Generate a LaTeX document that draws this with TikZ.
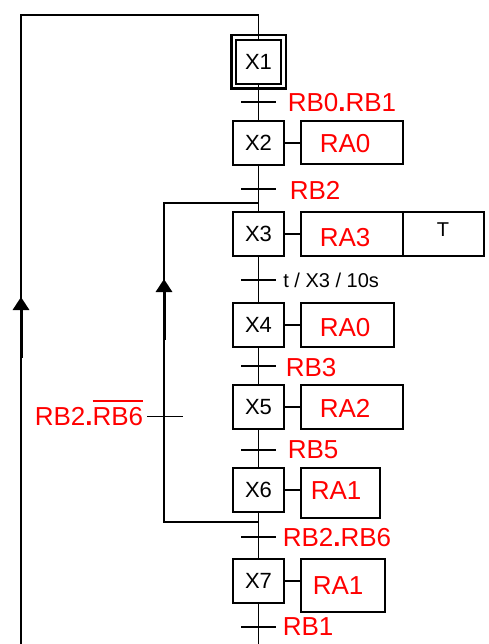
\documentclass[tikz,border=0pt]{standalone}
\usepackage{fontspec}
\setmainfont{Liberation Sans}
\usetikzlibrary{arrows.meta}
\newcommand\myoverbar[1]{\leavevmode\vbox{\hrule height 1.5pt\kern 5pt\hbox{#1}}}
\begin{document}
\begin{tikzpicture}[x=1pt,y=-1pt,
  line width=1.6pt,
  stepbox/.style={draw, minimum width=51pt, minimum height=44pt, inner sep=0pt, font=\fontsize{22}{26}\selectfont},
  actbox/.style={draw, minimum height=44pt, inner sep=0pt},
  rtxt/.style={text=red, inner sep=0pt, anchor=base west, font=\fontsize{26}{30}\selectfont},
  btxt/.style={inner sep=0pt, font=\fontsize{20}{24}\selectfont},
  upar/.style={line width=3pt, -{Triangle[width=16pt,length=13pt]}},
]
\useasboundingbox (0,0) rectangle (489,644);

% steps
\node[stepbox, minimum width=45pt] (X1) at (258.5,62) {X1};
\draw[line width=2.6pt] ([shift={(-4,-4)}]X1.north west) rectangle ([shift={(4,4)}]X1.south east);
\node[stepbox] (X2) at (258.5,143) {X2};
\node[stepbox] (X3) at (258.5,234) {X3};
\node[stepbox] (X4) at (258.5,325) {X4};
\node[stepbox] (X5) at (258.5,407) {X5};
\node[stepbox] (X6) at (258.5,490) {X6};
\node[stepbox] (X7) at (258.5,581) {X7};

% actions
\node[actbox, minimum width=102pt, minimum height=43pt] (A2) at (352,142.5) {};
\node[rtxt] (A2t) at (319,152.7) {RA0};
\node[actbox, minimum width=102pt] (A3) at (352,234) {};
\node[rtxt] (A3t) at (319,246) {RA3};
\node[actbox, minimum width=81pt] (T3) at (443.5,234) {};
\node[btxt, anchor=base] (T3t) at (443,236.5) {T};
\node[actbox, minimum width=93pt] (A4) at (347.5,325) {};
\node[rtxt] (A4t) at (319,336.7) {RA0};
\node[actbox, minimum width=102pt] (A5) at (352,407) {};
\node[rtxt] (A5t) at (319,417) {RA2};
\node[actbox, minimum width=79pt, minimum height=50pt] (A6) at (340.5,493) {};
\node[rtxt] (A6t) at (310,499.3) {RA1};
\node[actbox, minimum width=84pt, minimum height=53pt] (A7) at (343,585.5) {};
\node[rtxt] (A7t) at (312,594) {RA1};

\draw (X2.east) -- (X2.east -| A2.west);
\draw (X3.east) -- (X3.east -| A3.west);
\draw (X4.east) -- (X4.east -| A4.west);
\draw (X5.east) -- (X5.east -| A5.west);
\draw (X6.east) -- (X6.east -| A6.west);
\draw (X7.east) -- (X7.east -| A7.west);

% main chain
\coordinate (top) at (258.5,15);
\coordinate (leftbot) at (21,644);
\coordinate (mainbot) at (258.5,644);
\draw (X1.north) -- (top) -| (leftbot);
\draw (X1.south) -- (X2.north);
\draw (X2.south) -- (X3.north);
\draw (X3.south) -- (X4.north);
\draw (X4.south) -- (X5.north);
\draw (X5.south) -- (X6.north);
\draw (X6.south) -- (X7.north);
\draw (X7.south) -- (mainbot);

% transitions
\coordinate (t12) at (258.5,102);
\coordinate (t23) at (258.5,189);
\coordinate (t34) at (258.5,280);
\coordinate (t45) at (258.5,366);
\coordinate (t56) at (258.5,450);
\coordinate (t67) at (258.5,537);
\coordinate (t71) at (258.5,627);
\foreach \t in {t12,t23,t34,t45,t56,t67,t71}
  \draw ([xshift=-17.5]\t) -- ([xshift=17.5]\t);

\node[rtxt] (L12) at (287,111.7) {RB0{\bfseries .}RB1};
\node[rtxt] (L23) at (289,200) {RB2};
\node[btxt, anchor=base west] (L34) at (282.5,287.3) {t / X3 / 10s};
\node[rtxt] (L45) at (285,376) {RB3};
\node[rtxt] (L56) at (287,458.3) {RB5};
\node[rtxt] (L67) at (282,546.7) {RB2{\bfseries .}RB6};
\node[rtxt] (L71) at (282,635) {RB1};

% loop back branch
\coordinate (j1) at (258.5,203);
\coordinate (j2) at (258.5,522);
\coordinate (jl1) at (164,203);
\coordinate (jl2) at (164,522);
\draw (j2) -- (jl2) -- (jl1) -- (j1);
\coordinate (tl) at (164,416.5);
\draw ([xshift=-17]tl) -- ([xshift=19]tl);
\node[rtxt, anchor=base east] (Ll) at (144,425) {RB2{\bfseries .}\myoverbar{RB6}};

% arrows
\coordinate (a1s) at (21,358);
\coordinate (a1e) at (21,297);
\coordinate (a2s) at (164,340);
\coordinate (a2e) at (164,279);
\draw[upar] (a1s) -- (a1e);
\draw[upar] (a2s) -- (a2e);
\end{tikzpicture}
\end{document}
